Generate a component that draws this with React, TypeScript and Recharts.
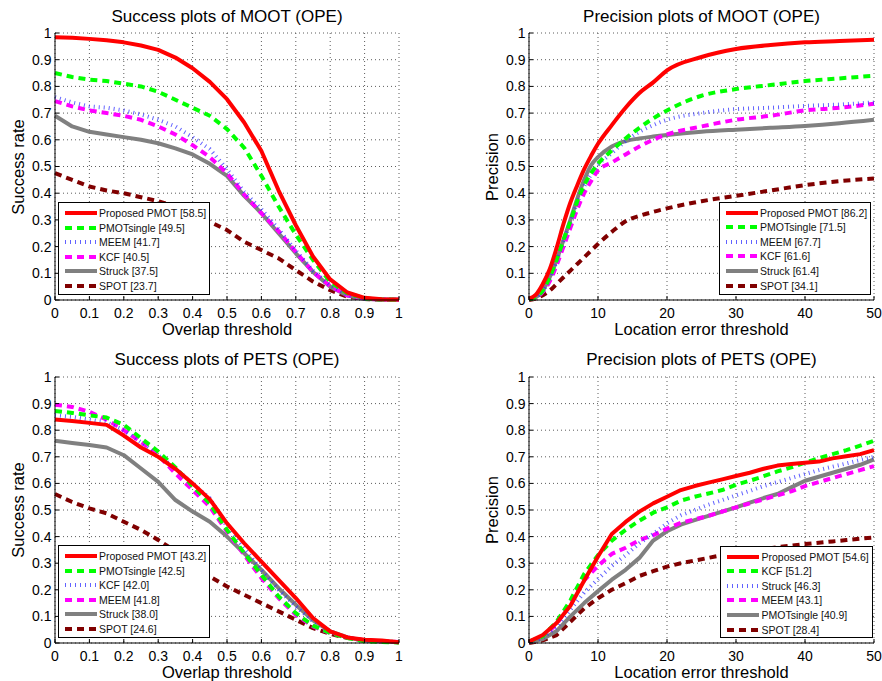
import React from 'react';
import { LineChart, Line, XAxis, YAxis, CartesianGrid } from 'recharts';

const FONT = '"Liberation Sans", Arial, Helvetica, sans-serif';

// ---------- axes / categories ----------
const overlapThresholds = [0, 0.05, 0.1, 0.15, 0.2, 0.25, 0.3, 0.35, 0.4, 0.45, 0.5, 0.55, 0.6, 0.65, 0.7, 0.75, 0.8, 0.85, 0.9, 0.95, 1];
const overlapTicks = [0, 0.1, 0.2, 0.3, 0.4, 0.5, 0.6, 0.7, 0.8, 0.9, 1];
const rateTicks = [0, 0.1, 0.2, 0.3, 0.4, 0.5, 0.6, 0.7, 0.8, 0.9, 1];
const locationTicks = [0, 10, 20, 30, 40, 50];
const mootLocationX = [0, 1, 2, 3, 4, 5, 6, 7, 8, 9, 10, 12, 14, 16, 18, 20, 25, 30, 35, 40, 45, 50];
const petsLocationX = [0, 2, 4, 6, 8, 10, 12, 14, 16, 18, 20, 22, 24, 26, 28, 30, 32, 34, 36, 38, 40, 42, 44, 46, 48, 50];

// ---------- Success plots of MOOT ----------
const mootSuccessPMOT = [0.984, 0.982, 0.978, 0.973, 0.965, 0.953, 0.937, 0.908, 0.868, 0.817, 0.752, 0.665, 0.558, 0.41, 0.28, 0.163, 0.077, 0.028, 0.008, 0.003, 0.002];
const mootSuccessPMOTsingle = [0.85, 0.835, 0.825, 0.82, 0.81, 0.8, 0.78, 0.75, 0.72, 0.69, 0.64, 0.57, 0.465, 0.35, 0.245, 0.15, 0.068, 0.025, 0.006, 0.002, 0.001];
const mootSuccessMEEM = [0.76, 0.74, 0.725, 0.72, 0.71, 0.695, 0.675, 0.65, 0.61, 0.565, 0.49, 0.405, 0.34, 0.265, 0.185, 0.11, 0.055, 0.018, 0.005, 0.002, 0.001];
const mootSuccessKCF = [0.745, 0.725, 0.71, 0.7, 0.69, 0.675, 0.65, 0.62, 0.58, 0.535, 0.475, 0.395, 0.325, 0.258, 0.18, 0.105, 0.052, 0.017, 0.005, 0.002, 0.001];
const mootSuccessStruck = [0.69, 0.65, 0.63, 0.62, 0.61, 0.6, 0.587, 0.568, 0.545, 0.51, 0.465, 0.39, 0.325, 0.25, 0.175, 0.105, 0.05, 0.017, 0.004, 0.002, 0.001];
const mootSuccessSPOT = [0.475, 0.45, 0.425, 0.41, 0.4, 0.385, 0.37, 0.35, 0.325, 0.293, 0.262, 0.218, 0.187, 0.156, 0.112, 0.069, 0.037, 0.012, 0.004, 0.001, 0.001];

// ---------- Precision plots of MOOT ----------
const mootPrecisionPMOT = [0.005, 0.02, 0.06, 0.115, 0.195, 0.285, 0.365, 0.43, 0.49, 0.54, 0.585, 0.655, 0.72, 0.775, 0.815, 0.86, 0.91, 0.94, 0.955, 0.965, 0.97, 0.975];
const mootPrecisionPMOTsingle = [0.003, 0.01, 0.035, 0.085, 0.15, 0.225, 0.295, 0.37, 0.43, 0.475, 0.51, 0.56, 0.605, 0.645, 0.68, 0.71, 0.765, 0.79, 0.805, 0.82, 0.83, 0.84];
const mootPrecisionMEEM = [0.003, 0.01, 0.035, 0.08, 0.145, 0.22, 0.29, 0.365, 0.425, 0.47, 0.505, 0.55, 0.595, 0.63, 0.655, 0.675, 0.7, 0.715, 0.72, 0.727, 0.732, 0.74];
const mootPrecisionKCF = [0.003, 0.008, 0.03, 0.07, 0.13, 0.2, 0.27, 0.34, 0.4, 0.445, 0.485, 0.515, 0.545, 0.575, 0.6, 0.62, 0.65, 0.675, 0.69, 0.71, 0.72, 0.735];
const mootPrecisionStruck = [0.003, 0.01, 0.035, 0.085, 0.15, 0.225, 0.3, 0.38, 0.45, 0.505, 0.535, 0.575, 0.595, 0.605, 0.612, 0.618, 0.63, 0.638, 0.645, 0.652, 0.662, 0.675];
const mootPrecisionSPOT = [0, 0.005, 0.018, 0.035, 0.06, 0.085, 0.11, 0.135, 0.16, 0.185, 0.21, 0.255, 0.295, 0.315, 0.33, 0.343, 0.37, 0.39, 0.41, 0.43, 0.445, 0.455];

// ---------- Success plots of PETS ----------
const petsSuccessPMOT = [0.84, 0.835, 0.8275, 0.82, 0.78, 0.735, 0.7, 0.655, 0.6, 0.54, 0.45, 0.375, 0.306, 0.2375, 0.169, 0.094, 0.044, 0.021, 0.0125, 0.009, 0.0025];
const petsSuccessPMOTsingle = [0.8725, 0.865, 0.856, 0.8475, 0.82, 0.77, 0.72, 0.66, 0.59, 0.525, 0.425, 0.3375, 0.256, 0.175, 0.1125, 0.065, 0.0375, 0.019, 0.006, 0.004, 0.002];
const petsSuccessKCF = [0.856, 0.85, 0.84, 0.83, 0.8, 0.755, 0.706, 0.656, 0.6, 0.544, 0.4375, 0.356, 0.275, 0.2, 0.1375, 0.081, 0.044, 0.021, 0.009, 0.006, 0.003];
const petsSuccessMEEM = [0.896, 0.8875, 0.869, 0.84, 0.8, 0.756, 0.706, 0.6375, 0.575, 0.5125, 0.419, 0.331, 0.244, 0.169, 0.106, 0.0625, 0.0375, 0.021, 0.01, 0.007, 0.004];
const petsSuccessStruck = [0.76, 0.752, 0.744, 0.735, 0.706, 0.656, 0.606, 0.5375, 0.494, 0.456, 0.4, 0.3375, 0.275, 0.206, 0.144, 0.085, 0.044, 0.021, 0.009, 0.006, 0.003];
const petsSuccessSPOT = [0.56, 0.53, 0.506, 0.4875, 0.456, 0.425, 0.3875, 0.345, 0.3, 0.25, 0.2125, 0.181, 0.15, 0.119, 0.0875, 0.056, 0.034, 0.019, 0.01, 0.006, 0.003];

// ---------- Precision plots of PETS ----------
const petsPrecisionPMOT = [0.005, 0.03, 0.075, 0.14, 0.235, 0.325, 0.41, 0.455, 0.494, 0.525, 0.55, 0.575, 0.59, 0.603, 0.615, 0.628, 0.64, 0.655, 0.667, 0.673, 0.678, 0.682, 0.694, 0.702, 0.71, 0.725];
const petsPrecisionKCF = [0.005, 0.025, 0.08, 0.16, 0.26, 0.33, 0.385, 0.425, 0.46, 0.49, 0.51, 0.535, 0.55, 0.562, 0.575, 0.595, 0.61, 0.627, 0.645, 0.66, 0.678, 0.695, 0.71, 0.725, 0.742, 0.76];
const petsPrecisionStruck = [0.003, 0.02, 0.06, 0.125, 0.19, 0.24, 0.29, 0.33, 0.375, 0.41, 0.45, 0.48, 0.5, 0.52, 0.537, 0.555, 0.572, 0.59, 0.605, 0.62, 0.635, 0.65, 0.663, 0.675, 0.688, 0.7];
const petsPrecisionMEEM = [0.004, 0.025, 0.07, 0.15, 0.235, 0.29, 0.335, 0.358, 0.387, 0.405, 0.43, 0.452, 0.465, 0.478, 0.494, 0.51, 0.525, 0.54, 0.555, 0.57, 0.59, 0.605, 0.62, 0.635, 0.65, 0.665];
const petsPrecisionPMOTsingle = [0.002, 0.015, 0.045, 0.1, 0.15, 0.195, 0.238, 0.275, 0.32, 0.385, 0.42, 0.445, 0.462, 0.478, 0.494, 0.51, 0.528, 0.545, 0.56, 0.585, 0.61, 0.625, 0.64, 0.655, 0.67, 0.69];
const petsPrecisionSPOT = [0, 0.01, 0.03, 0.08, 0.13, 0.168, 0.2, 0.225, 0.252, 0.27, 0.287, 0.3, 0.31, 0.32, 0.33, 0.338, 0.345, 0.352, 0.36, 0.366, 0.372, 0.377, 0.382, 0.387, 0.392, 0.397];

// ---------- styles ----------
type Sty = { stroke: string; width: number; dash?: string; opacity?: number };
const STY: Record<string, Sty> = {
  red: { stroke: '#ff0000', width: 4 },
  green: { stroke: '#00ff00', width: 4, dash: '7 5' },
  blue: { stroke: '#2e2eff', width: 4, dash: '1 4', opacity: 0.75 },
  magenta: { stroke: '#ff00ff', width: 4, dash: '7 5' },
  gray: { stroke: '#808080', width: 4 },
  darkred: { stroke: '#800000', width: 4, dash: '7 5' },
};

type Series = { label: string; values: number[]; sty: Sty };

const W = 441;
const H = 340;
const XH = 30;

function Legend({ series, box }: { series: Series[]; box: [number, number, number, number] }) {
  const [x, y, w, h] = box;
  return (
    <div
      style={{
        position: 'absolute', left: x, top: y, width: w, height: h, boxSizing: 'border-box',
        border: '1.3px solid #000', background: '#fff', fontFamily: FONT, fontSize: 10.5, color: '#111',
      }}
    >
      {series.map((s, i) => (
        <div key={i} style={{ position: 'absolute', left: 0, top: 10 + i * 14.6 - 7, height: 14, width: '100%' }}>
          <svg width={34} height={14} style={{ position: 'absolute', left: 5, top: 0 }}>
            <line x1={1} y1={7} x2={33} y2={7} stroke={s.sty.stroke} strokeWidth={s.sty.width}
              strokeDasharray={s.sty.dash} strokeOpacity={s.sty.opacity ?? 1} />
          </svg>
          <span style={{ position: 'absolute', left: 40.5, top: 0, lineHeight: '14px', whiteSpace: 'nowrap' }}>{s.label}</span>
        </div>
      ))}
    </div>
  );
}

function Panel(props: {
  left: number; top: number; plot: [number, number, number, number];
  title: string; xLabel: string; yLabel: string; yLabelX: number; titleY: number;
  xs: number[]; xDomain: [number, number]; xTicks: number[]; series: Series[];
  legendBox: [number, number, number, number]; curve: 'linear' | 'monotone';
}) {
  const { left, top, plot, title, xLabel, yLabel, yLabelX, titleY, xs, xDomain, xTicks, series, legendBox, curve } = props;
  const [pl, pt, pr, pb] = plot;
  const rows = xs.map((x, i) => {
    const r: any = { x };
    series.forEach((s, k) => { r['s' + k] = s.values[i]; });
    return r;
  });
  const tickStyle = { fill: '#000', fontSize: 14, fontFamily: FONT };
  const order = series.map((s, k) => k).reverse();
  return (
    <div style={{ position: 'absolute', left, top, width: W, height: H }}>
      <LineChart width={W} height={H} data={rows}
        margin={{ top: pt, right: W - pr, bottom: H - pb - XH, left: 0 }}>
        <CartesianGrid stroke="#4a4a4a" strokeDasharray="1 3" strokeWidth={0.9} />
        <XAxis dataKey="x" type="number" domain={xDomain} ticks={xTicks} interval={0} height={XH}
          tickSize={-4} tickMargin={12} axisLine={{ stroke: '#000' }} tickLine={{ stroke: '#000' }} tick={tickStyle} />
        <XAxis xAxisId="top" orientation="top" dataKey="x" type="number" domain={xDomain} ticks={xTicks} interval={0}
          height={0} tickSize={-4} axisLine={{ stroke: '#000' }} tickLine={{ stroke: '#000' }} tick={false} />
        <YAxis type="number" domain={[0, 1]} ticks={rateTicks} interval={0} width={pl}
          tickSize={-4} tickMargin={7.5} axisLine={{ stroke: '#000' }} tickLine={{ stroke: '#000' }} tick={tickStyle} />
        <YAxis yAxisId="right" orientation="right" type="number" domain={[0, 1]} ticks={rateTicks} interval={0} width={0}
          tickSize={-4} axisLine={{ stroke: '#000' }} tickLine={{ stroke: '#000' }} tick={false} />
        {order.map((k) => {
          const s = series[k];
          return (
            <Line key={k} dataKey={'s' + k} type={curve} dot={false} isAnimationActive={false}
              stroke={s.sty.stroke} strokeWidth={s.sty.width} strokeDasharray={s.sty.dash}
              strokeOpacity={s.sty.opacity ?? 1} strokeLinejoin="round" />
          );
        })}
      </LineChart>
      <div style={{ position: 'absolute', left: pl, width: pr - pl, top: titleY - 8.5, textAlign: 'center',
        fontFamily: FONT, fontSize: 17, lineHeight: '17px', color: '#000', whiteSpace: 'nowrap' }}>{title}</div>
      <div style={{ position: 'absolute', left: pl, width: pr - pl, top: pb + 29 - 8.25, textAlign: 'center',
        fontFamily: FONT, fontSize: 16.5, lineHeight: '16.5px', color: '#000', whiteSpace: 'nowrap' }}>{xLabel}</div>
      <div style={{ position: 'absolute', left: yLabelX, top: (pt + pb) / 2, transform: 'translate(-50%, -50%) rotate(-90deg)',
        fontFamily: FONT, fontSize: 16.5, lineHeight: '16.5px', color: '#000', whiteSpace: 'nowrap' }}>{yLabel}</div>
      <Legend series={series} box={legendBox} />
    </div>
  );
}

export default function App() {
  const mootSuccess: Series[] = [
    { label: 'Proposed PMOT [58.5]', values: mootSuccessPMOT, sty: STY.red },
    { label: 'PMOTsingle [49.5]', values: mootSuccessPMOTsingle, sty: STY.green },
    { label: 'MEEM [41.7]', values: mootSuccessMEEM, sty: STY.blue },
    { label: 'KCF [40.5]', values: mootSuccessKCF, sty: STY.magenta },
    { label: 'Struck [37.5]', values: mootSuccessStruck, sty: STY.gray },
    { label: 'SPOT [23.7]', values: mootSuccessSPOT, sty: STY.darkred },
  ];
  const mootPrecision: Series[] = [
    { label: 'Proposed PMOT [86.2]', values: mootPrecisionPMOT, sty: STY.red },
    { label: 'PMOTsingle [71.5]', values: mootPrecisionPMOTsingle, sty: STY.green },
    { label: 'MEEM [67.7]', values: mootPrecisionMEEM, sty: STY.blue },
    { label: 'KCF [61.6]', values: mootPrecisionKCF, sty: STY.magenta },
    { label: 'Struck [61.4]', values: mootPrecisionStruck, sty: STY.gray },
    { label: 'SPOT [34.1]', values: mootPrecisionSPOT, sty: STY.darkred },
  ];
  const petsSuccess: Series[] = [
    { label: 'Proposed PMOT [43.2]', values: petsSuccessPMOT, sty: STY.red },
    { label: 'PMOTsingle [42.5]', values: petsSuccessPMOTsingle, sty: STY.green },
    { label: 'KCF [42.0]', values: petsSuccessKCF, sty: STY.blue },
    { label: 'MEEM [41.8]', values: petsSuccessMEEM, sty: STY.magenta },
    { label: 'Struck [38.0]', values: petsSuccessStruck, sty: STY.gray },
    { label: 'SPOT [24.6]', values: petsSuccessSPOT, sty: STY.darkred },
  ];
  const petsPrecision: Series[] = [
    { label: 'Proposed PMOT [54.6]', values: petsPrecisionPMOT, sty: STY.red },
    { label: 'KCF [51.2]', values: petsPrecisionKCF, sty: STY.green },
    { label: 'Struck [46.3]', values: petsPrecisionStruck, sty: STY.blue },
    { label: 'MEEM [43.1]', values: petsPrecisionMEEM, sty: STY.magenta },
    { label: 'PMOTsingle [40.9]', values: petsPrecisionPMOTsingle, sty: STY.gray },
    { label: 'SPOT [28.4]', values: petsPrecisionSPOT, sty: STY.darkred },
  ];

  return (
    <div style={{ position: 'absolute', left: 0, top: 0, width: 882, height: 681, background: '#fff', overflow: 'hidden' }}>
      <Panel left={0} top={0} plot={[55, 33, 399, 300]} title="Success plots of MOOT (OPE)"
        xLabel="Overlap threshold" yLabel="Success rate" yLabelX={17.5} titleY={16.7}
        xs={overlapThresholds} xDomain={[0, 1]} xTicks={overlapTicks} series={mootSuccess}
        legendBox={[57.5, 202, 152.5, 93]} curve="linear" />
      <Panel left={441} top={0} plot={[88, 33, 433, 300]} title="Precision plots of MOOT (OPE)"
        xLabel="Location error threshold" yLabel="Precision" yLabelX={50.5} titleY={16.7}
        xs={mootLocationX} xDomain={[0, 50]} xTicks={locationTicks} series={mootPrecision}
        legendBox={[277.5, 201.5, 152, 93]} curve="monotone" />
      <Panel left={0} top={340} plot={[55, 37, 399, 303]} title="Success plots of PETS (OPE)"
        xLabel="Overlap threshold" yLabel="Success rate" yLabelX={17.5} titleY={19.3}
        xs={overlapThresholds} xDomain={[0, 1]} xTicks={overlapTicks} series={petsSuccess}
        legendBox={[57.5, 205, 152.5, 92.5]} curve="linear" />
      <Panel left={441} top={340} plot={[88, 37, 433, 303]} title="Precision plots of PETS (OPE)"
        xLabel="Location error threshold" yLabel="Precision" yLabelX={50.5} titleY={19.3}
        xs={petsLocationX} xDomain={[0, 50]} xTicks={locationTicks} series={petsPrecision}
        legendBox={[279, 205.5, 153, 92.5]} curve="linear" />
    </div>
  );
}
